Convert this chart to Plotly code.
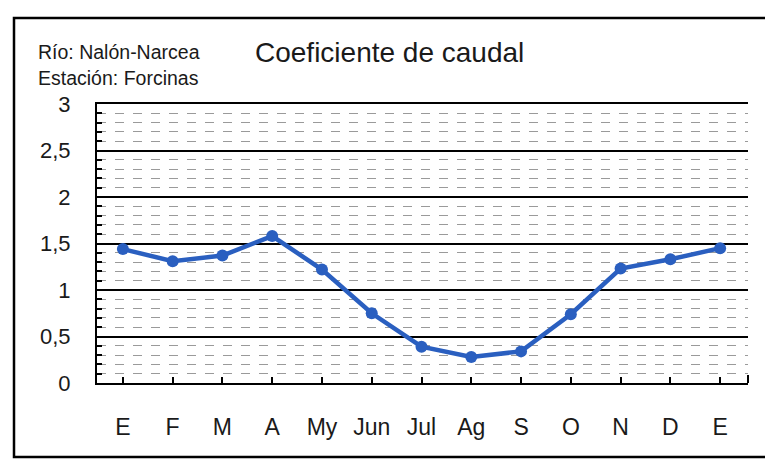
import plotly.graph_objects as go

# Data
months = ["E", "F", "M", "A", "My", "Jun", "Jul", "Ag", "S", "O", "N", "D", "E"]
coef = [1.44, 1.31, 1.37, 1.58, 1.22, 0.75, 0.39, 0.28, 0.34, 0.74, 1.23, 1.33, 1.45]
y_ticks = [0, 0.5, 1, 1.5, 2, 2.5, 3]
y_tick_labels = ["0", "0,5", "1", "1,5", "2", "2,5", "3"]
river_label = "Río: Nalón-Narcea"
station_label = "Estación: Forcinas"
chart_title = "Coeficiente de caudal"

FONT = "Liberation Sans, Arial, Helvetica, sans-serif"
BLUE = "#2a5fc0"

W, H = 765, 465
L, R, T, B = 97, 17, 104, 82
pw, ph = W - L - R, H - T - B


def px(x):
    return (x - L) / pw


def py(y):
    return (H - B - y) / ph


xs = list(range(len(months)))

fig = go.Figure()
fig.add_trace(go.Scatter(
    x=xs, y=coef, mode="lines+markers",
    line=dict(color=BLUE, width=4.5),
    marker=dict(color=BLUE, size=12),
    hoverinfo="skip", showlegend=False,
))

fig.update_layout(
    width=W, height=H,
    margin=dict(l=L, r=R, t=T, b=B),
    paper_bgcolor="white", plot_bgcolor="white",
    font=dict(family=FONT, color="#1a1a1a"),
    showlegend=False,
    xaxis=dict(
        range=[-0.52, 12.56],
        tickmode="array", tickvals=xs, ticktext=months,
        ticks="inside", ticklen=6, tickwidth=2, tickcolor="black",
        showgrid=False, zeroline=False,
        showline=True, linecolor="black", linewidth=2, mirror=True,
        tickfont=dict(size=23, family=FONT, color="#1a1a1a"),
        ticklabelstandoff=22,
    ),
    yaxis=dict(
        range=[0, 3],
        tickmode="array", tickvals=y_ticks, ticktext=y_tick_labels,
        ticks="inside", ticklen=6, tickwidth=2, tickcolor="black",
        showgrid=True, gridcolor="black", gridwidth=2,
        zeroline=False,
        showline=True, linecolor="black", linewidth=2,
        tickfont=dict(size=22, family=FONT, color="#1a1a1a"),
        ticklabelstandoff=20,
        minor=dict(
            dtick=0.1, showgrid=True, gridcolor="#9a9a9a",
            griddash="dash", gridwidth=1,
            ticks="inside", ticklen=5, tickwidth=2, tickcolor="black",
        ),
    ),
)

# Outer frame of the figure
fig.add_shape(type="rect", xref="paper", yref="paper",
              x0=px(14), x1=px(775), y0=py(457), y1=py(18),
              line=dict(color="black", width=2.5), layer="below")
# small end mark on the right of the x axis
fig.add_shape(type="line", xref="paper", yref="paper",
              x0=1, x1=1, y0=0, y1=py(H - B - 8),
              line=dict(color="black", width=2))

fig.add_annotation(text=river_label, xref="paper", yref="paper",
                   x=px(36), y=py(52), xanchor="left", yanchor="middle",
                   showarrow=False, font=dict(size=19.5, family=FONT, color="#1a1a1a"))
fig.add_annotation(text=station_label, xref="paper", yref="paper",
                   x=px(36), y=py(78), xanchor="left", yanchor="middle",
                   showarrow=False, font=dict(size=19.5, family=FONT, color="#1a1a1a"))
fig.add_annotation(text=chart_title, xref="paper", yref="paper",
                   x=px(253), y=py(52), xanchor="left", yanchor="middle",
                   showarrow=False, font=dict(size=28, family=FONT, color="#1a1a1a"))

fig.write_html("out.html", config={"displayModeBar": False},
               post_script="document.body.style.margin='0';")
